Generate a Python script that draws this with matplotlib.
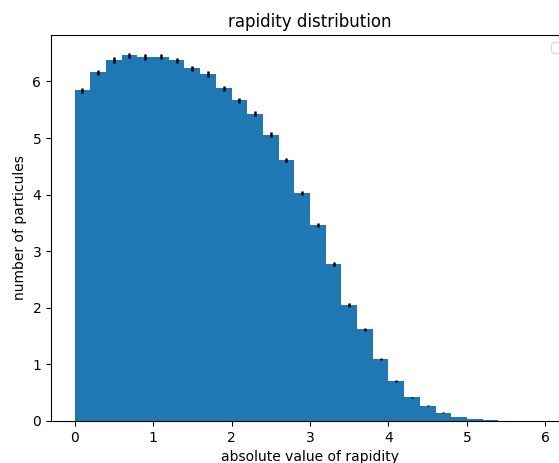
import numpy as np
import matplotlib
matplotlib.use("Agg")
import matplotlib.pyplot as plt

# bin edges of the |y| histogram (30 bins of 0.2 from 0 to 6)
bin_edges = np.linspace(0, 6, 31)

# number of particules per bin
counts = [5.84, 6.16, 6.38, 6.46, 6.43, 6.44, 6.37, 6.23, 6.13, 5.88,
          5.67, 5.43, 5.06, 4.61, 4.03, 3.46, 2.77, 2.05, 1.62, 1.09,
          0.70, 0.42, 0.27, 0.15, 0.07, 0.04, 0.02, 0.006, 0.002, 0.001]

# statistical errors
errors = [0.045, 0.048, 0.048, 0.05, 0.05, 0.05, 0.048, 0.047, 0.047, 0.046,
          0.045, 0.044, 0.043, 0.041, 0.038, 0.035, 0.032, 0.028, 0.025, 0.02,
          0.016, 0.012, 0.01, 0.008, 0.006, 0.004, 0.003, 0.002, 0.001, 0.001]

centers = 0.5 * (bin_edges[:-1] + bin_edges[1:])
widths = np.diff(bin_edges)

fig = plt.figure(figsize=(5.59, 4.63), dpi=100)
# axes runs a bit past the right edge of the picture, like the cropped original
ax = fig.add_axes([51 / 559, 42 / 463, 518 / 559, 386 / 463])

ax.bar(bin_edges[:-1], counts, width=widths, align="edge", color="#1f77b4")
ax.errorbar(centers, counts, yerr=errors, fmt="none", ecolor="black", elinewidth=1.8)

ax.set_xlim(-0.3, 6.3)
ax.set_ylim(0, 6.82)
ax.set_title("rapidity distribution")
ax.set_xlabel("absolute value of rapidity")
ax.set_ylabel("number of particules")
ax.legend(handles=[], loc="upper right")

fig.savefig("out.png", dpi=100)
